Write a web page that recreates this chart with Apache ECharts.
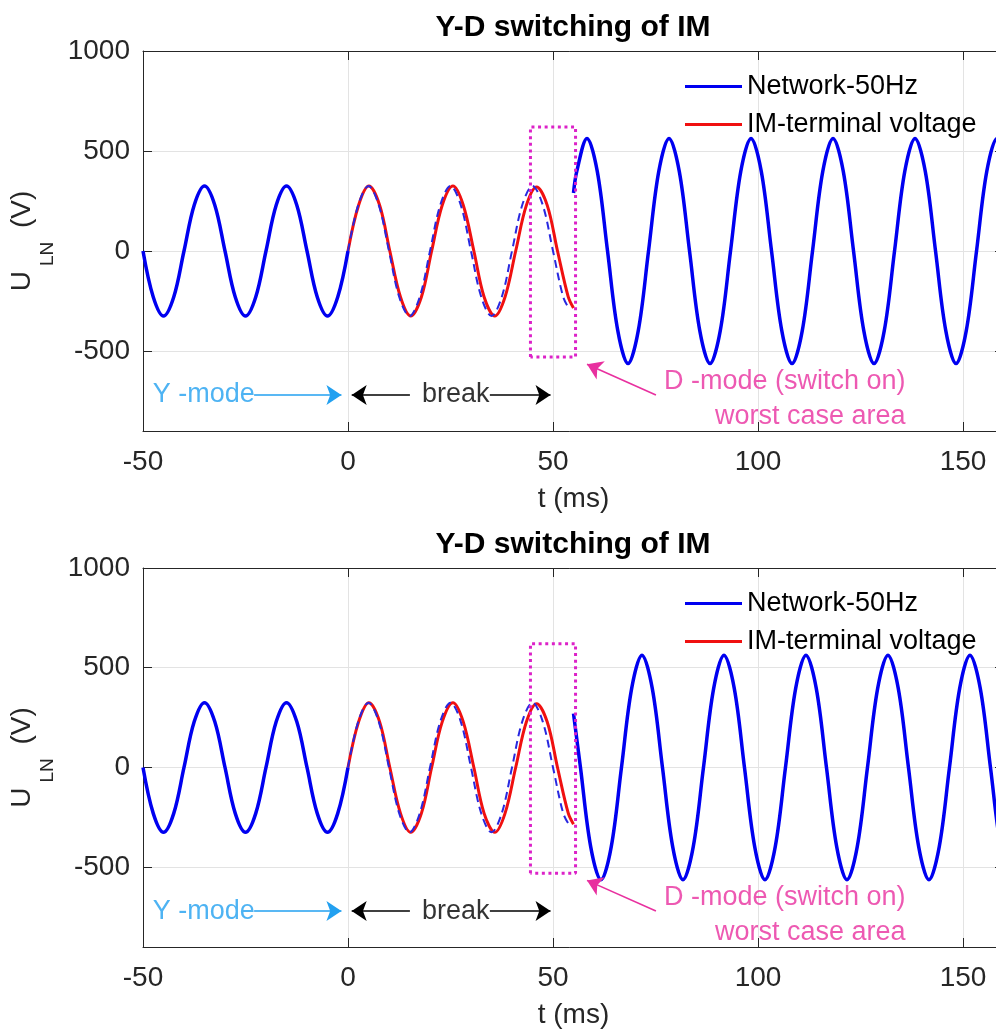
<!DOCTYPE html>
<html>
<head>
<meta charset="UTF-8">
<title>Y-D switching of IM</title>
<script src="https://cdn.jsdelivr.net/npm/echarts@6/dist/echarts.min.js"></script>
<style>
  body { margin: 0; background: #fff; }
  #chart { width: 996px; height: 1030px; }
</style>
</head>
<body>
<div id="chart"></div>
<script>
// t in ms, U in V
var xTicks = [-50, 0, 50, 100, 150];
var yTicks = [-500, 0, 500, 1000];

// Y-mode network voltage (same in both plots)
var yModeT = [-50, -47.5, -45, -42.5, -40, -37.5, -35, -32.5, -30, -27.5, -25,
              -22.5, -20, -17.5, -15, -12.5, -10, -7.5, -5, -2.5, 0];
var yModeV = [0, -230, -325, -230, 0, 230, 325, 230, 0, -230, -325,
              -230, 0, 230, 325, 230, 0, -230, -325, -230, 0];

// network during the break (dashed)
var breakT = [0, 2.5, 5, 7.5, 10, 12.5, 15, 17.5, 20, 22.5, 25, 27.5,
              30, 32.5, 35, 37.5, 40, 42.5, 45, 47.5, 50, 52.5, 54];
var breakV = [0, 230, 325, 230, 0, -230, -325, -230, 0, 230, 325, 230,
              0, -230, -325, -230, 0, 230, 325, 230, 0, -230, -290];

// IM terminal voltage during the break
var imT = [0, 2.6, 5.1, 7.7, 10.2, 12.8, 15.3, 17.9, 20.4, 23.0, 25.6, 28.1,
           30.7, 33.2, 35.8, 38.3, 40.9, 43.5, 46.0, 48.6, 51.1, 53.7, 55];
var imV = [0, 230, 325, 230, 0, -230, -325, -230, 0, 230, 325, 230,
           0, -230, -325, -230, 0, 228, 320, 228, 0, -228, -285];

// D-mode network, top plot
var dTopT = [55, 55.8, 58.3, 60.8, 63.3, 65.8, 68.3, 70.8, 73.3,
             75.8, 78.3, 80.8, 83.3, 85.8, 88.3, 90.8, 93.3,
             95.8, 98.3, 100.8, 103.3, 105.8, 108.3, 110.8, 113.3,
             115.8, 118.3, 120.8, 123.3, 125.8, 128.3, 130.8, 133.3,
             135.8, 138.3, 140.8, 143.3, 145.8, 148.3, 150.8, 153.3,
             155.8, 158.3, 160.8];
var dTopV = [290, 398, 563, 398, 0, -398, -563, -398, 0,
             398, 563, 398, 0, -398, -563, -398, 0,
             398, 563, 398, 0, -398, -563, -398, 0,
             398, 563, 398, 0, -398, -563, -398, 0,
             398, 563, 398, 0, -398, -563, -398, 0,
             398, 563, 398];

// D-mode network, bottom plot
var dBotT = [55, 56.7, 59.2, 61.7, 64.2, 66.7, 69.2, 71.7, 74.2,
             76.7, 79.2, 81.7, 84.2, 86.7, 89.2, 91.7, 94.2,
             96.7, 99.2, 101.7, 104.2, 106.7, 109.2, 111.7, 114.2,
             116.7, 119.2, 121.7, 124.2, 126.7, 129.2, 131.7, 134.2,
             136.7, 139.2, 141.7, 144.2, 146.7, 149.2, 151.7, 154.2,
             156.7, 159.2, 161.7];
var dBotV = [270, 0, -398, -563, -398, 0, 398, 563, 398,
             0, -398, -563, -398, 0, 398, 563, 398,
             0, -398, -563, -398, 0, 398, 563, 398,
             0, -398, -563, -398, 0, 398, 563, 398,
             0, -398, -563, -398, 0, 398, 563, 398,
             0, -398, -563];

// worst case area box
var boxT = [44.5, 44.5, 55.5, 55.5, 44.5];
var boxV = [-530, 620, 620, -530, -530];

// annotations
var noteText = ['Y -mode', 'break', 'D -mode (switch on)\nworst case area'];
var noteT = [-47.6, 26.3, 136.0];
var noteV = [-720, -720, -738];
var arrowFrom = [[-22.9, -720], [15.1, -720], [34.6, -720], [75.1, -720]];
var arrowTo = [[-1.6, -720], [0.9, -720], [49.4, -720], [58.3, -566]];

var BLUE = '#0000f0', RED = '#f01010', CYAN = '#22a0f0', MAG = '#e8309f', BOXC = '#dc22c8';
var AX = '#262626', GRID = '#e3e3e3';
var FONT = 'Liberation Sans, Arial, sans-serif';

function pairs(ts, vs) {
  return ts.map(function (t, i) { return [t, vs[i]]; });
}
function plain(v) { return String(v); }

var chart = echarts.init(document.getElementById('chart'));

var grids = [
  { left: 143, top: 51, width: 861, height: 380, outerBoundsMode: 'none' },
  { left: 143, top: 568, width: 861, height: 379, outerBoundsMode: 'none' }
];
var xAxes = [], yAxes = [], series = [];

function addPlot(p, dT, dV) {
  xAxes.push({
    gridIndex: p, type: 'value', position: 'bottom', min: -50, max: 160,
    interval: 50,
    axisLine: { onZero: false, lineStyle: { color: AX, width: 1 } },
    axisTick: { inside: true, length: 9, customValues: xTicks, lineStyle: { color: AX } },
    axisLabel: { customValues: xTicks, formatter: plain, fontSize: 28, color: AX, margin: 17, fontFamily: FONT },
    splitLine: { show: true, lineStyle: { color: GRID, width: 1 } },
    name: 't (ms)', nameLocation: 'middle', nameGap: 54,
    nameTextStyle: { fontSize: 28, color: AX, fontFamily: FONT }
  });
  xAxes.push({
    gridIndex: p, type: 'value', position: 'top', min: -50, max: 160,
    interval: 50,
    axisLine: { onZero: false, lineStyle: { color: AX, width: 1 } },
    axisTick: { inside: true, length: 9, customValues: xTicks, lineStyle: { color: AX } },
    axisLabel: { show: false },
    splitLine: { show: false }
  });
  yAxes.push({
    gridIndex: p, type: 'value', position: 'left', min: -900, max: 1000,
    splitNumber: 4,
    axisLine: { show: true, onZero: false, lineStyle: { color: AX, width: 1 } },
    axisTick: { show: true, inside: true, length: 9, customValues: yTicks, lineStyle: { color: AX } },
    axisLabel: { customValues: yTicks, formatter: plain, fontSize: 28, color: AX, margin: 13, fontFamily: FONT },
    splitLine: { show: true, lineStyle: { color: GRID, width: 1 } },
    name: '{u|U}{s|LN}{u| (V)}', nameLocation: 'middle', nameRotate: 90, nameGap: 86,
    nameTextStyle: {
      rich: {
        u: { fontSize: 28, color: AX, fontFamily: FONT },
        s: { fontSize: 19, color: AX, fontFamily: FONT, padding: [50, 6, 0, 5] }
      }
    }
  });
  yAxes.push({
    gridIndex: p, type: 'value', position: 'right', min: -900, max: 1000,
    splitNumber: 4,
    axisLine: { show: true, onZero: false, lineStyle: { color: AX, width: 1 } },
    axisTick: { show: true, inside: true, length: 9, customValues: yTicks, lineStyle: { color: AX } },
    axisLabel: { show: false },
    splitLine: { show: false }
  });

  var xi = 2 * p, yi = 2 * p;
  series.push({
    type: 'line', name: 'IM-terminal voltage', xAxisIndex: xi, yAxisIndex: yi,
    data: pairs(imT, imV), smooth: 0.35, showSymbol: false, symbol: 'none', z: 2,
    itemStyle: { color: RED }, lineStyle: { color: RED, width: 3 }
  });
  series.push({
    type: 'line', name: 'net-break', xAxisIndex: xi, yAxisIndex: yi,
    data: pairs(breakT, breakV), smooth: 0.35, showSymbol: false, symbol: 'none', z: 3,
    itemStyle: { color: '#2828e0' }, lineStyle: { color: '#2828e0', width: 2, type: [8, 5] }
  });
  series.push({
    type: 'line', name: 'Network-50Hz', xAxisIndex: xi, yAxisIndex: yi,
    data: pairs(yModeT, yModeV), smooth: 0.35, showSymbol: false, symbol: 'none', z: 3,
    itemStyle: { color: BLUE }, lineStyle: { color: BLUE, width: 3.5 }
  });
  series.push({
    type: 'line', name: 'Network-50Hz', xAxisIndex: xi, yAxisIndex: yi,
    data: pairs(dT, dV), smooth: 0.35, showSymbol: false, symbol: 'none', z: 3,
    itemStyle: { color: BLUE }, lineStyle: { color: BLUE, width: 3.5 }
  });
  series.push({
    type: 'line', name: 'box', xAxisIndex: xi, yAxisIndex: yi,
    data: pairs(boxT, boxV), showSymbol: false, symbol: 'none', z: 4,
    itemStyle: { color: BOXC }, lineStyle: { color: BOXC, width: 3, type: [3, 3.6] }
  });

  var noteColor = [CYAN, '#000', MAG];
  var noteAlign = ['left', 'center', 'right'];
  var arrowColor = [CYAN, '#000', '#000', MAG];
  series.push({
    type: 'scatter', name: 'notes', xAxisIndex: xi, yAxisIndex: yi,
    symbolSize: 1, silent: true, z: 5,
    itemStyle: { color: 'transparent' },
    data: noteText.map(function (s, i) {
      return {
        value: [noteT[i], noteV[i]],
        label: { formatter: s, color: noteColor[i], align: noteAlign[i] }
      };
    }),
    label: {
      show: true, position: 'inside', verticalAlign: 'middle',
      fontSize: 27, lineHeight: 35, fontFamily: FONT
    },
    markLine: {
      silent: true, animation: false,
      symbol: ['none', 'arrow'], symbolSize: 15,
      label: { show: false },
      emphasis: { disabled: true },
      data: arrowFrom.map(function (a, i) {
        var ls = { color: arrowColor[i], width: 1.6, type: 'solid' };
        return [{ coord: a, lineStyle: ls }, { coord: arrowTo[i], lineStyle: ls }];
      })
    }
  });
}

addPlot(0, dTopT, dTopV);
addPlot(1, dBotT, dBotV);

function legendAt(top) {
  return {
    data: ['Network-50Hz', 'IM-terminal voltage'],
    orient: 'vertical', left: 685, top: top, padding: 0,
    itemWidth: 57, itemHeight: 3, icon: 'rect', itemGap: 11,
    selectedMode: false,
    textStyle: { fontSize: 27, color: '#000', fontFamily: FONT }
  };
}

chart.setOption({
  animation: false,
  textStyle: { fontFamily: FONT },
  title: [
    { text: 'Y-D switching of IM', left: 573, top: 13, textAlign: 'center', padding: 0,
      textStyle: { fontSize: 30, fontWeight: 'bold', color: '#000', fontFamily: FONT } },
    { text: 'Y-D switching of IM', left: 573, top: 530, textAlign: 'center', padding: 0,
      textStyle: { fontSize: 30, fontWeight: 'bold', color: '#000', fontFamily: FONT } }
  ],
  legend: [legendAt(73), legendAt(590)],
  grid: grids,
  xAxis: xAxes,
  yAxis: yAxes,
  series: series
});
</script>
</body>
</html>
